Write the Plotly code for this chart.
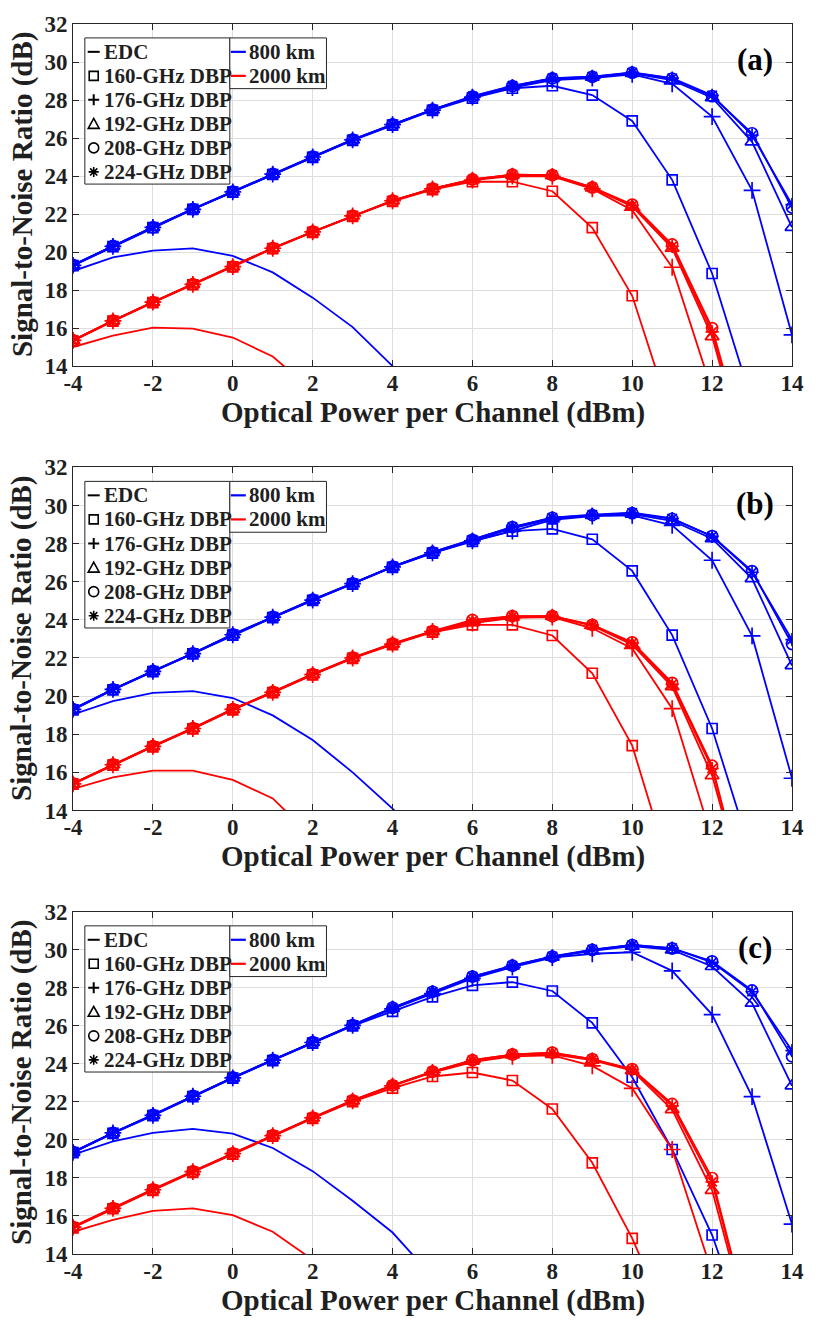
import plotly.graph_objects as go

# ---------------- data ----------------
X = list(range(-4, 15))  # optical power per channel (dBm)
X_TICKS = [-4, -2, 0, 2, 4, 6, 8, 10, 12, 14]
X_TICK_LABELS = ["-4", "-2", "0", "2", "4", "6", "8", "10", "12", "14"]
Y_TICKS = [14, 16, 18, 20, 22, 24, 26, 28, 30, 32]
Y_TICK_LABELS = ["14", "16", "18", "20", "22", "24", "26", "28", "30", "32"]

SERIES = ["EDC", "160-GHz DBP", "176-GHz DBP", "192-GHz DBP", "208-GHz DBP", "224-GHz DBP"]
DISTANCES = ["800 km", "2000 km"]
PANEL_LABELS = ["(a)", "(b)", "(c)"]
X_TITLE = "Optical Power per Channel (dBm)"
Y_TITLE = "Signal-to-Noise Ratio (dB)"

# Panel (a)
A_800_EDC = [19.0, 19.72, 20.07, 20.19, 19.8, 18.93, 17.6, 16.05, 14.0, 11.7]
A_800_160 = [19.28, 20.28, 21.28, 22.24, 23.15, 24.08, 24.98, 25.88, 26.68, 27.45, 28.1, 28.62, 28.75, 28.26, 26.9, 23.8, 18.87, 12.1]
A_800_176 = [19.3, 20.3, 21.3, 22.25, 23.17, 24.1, 25.0, 25.9, 26.7, 27.47, 28.15, 28.65, 29.05, 29.15, 29.35, 28.85, 27.13, 23.25, 15.64]
A_800_192 = [19.3, 20.3, 21.3, 22.25, 23.17, 24.1, 25.0, 25.9, 26.7, 27.48, 28.17, 28.7, 29.12, 29.2, 29.4, 29.05, 28.12, 25.8, 21.3]
A_800_208 = [19.32, 20.32, 21.3, 22.26, 23.18, 24.12, 25.02, 25.92, 26.72, 27.5, 28.18, 28.73, 29.14, 29.22, 29.44, 29.13, 28.2, 26.25, 22.34]
A_800_224 = [19.32, 20.32, 21.32, 22.27, 23.2, 24.12, 25.02, 25.92, 26.72, 27.5, 28.2, 28.75, 29.15, 29.23, 29.45, 29.15, 28.25, 26.15, 22.5]
A_2000_EDC = [15.0, 15.6, 16.02, 15.97, 15.5, 14.5, 12.7]
A_2000_160 = [15.32, 16.36, 17.34, 18.28, 19.22, 20.18, 21.04, 21.88, 22.66, 23.28, 23.7, 23.7, 23.2, 21.28, 17.7, 11.2]
A_2000_176 = [15.35, 16.38, 17.36, 18.3, 19.23, 20.2, 21.06, 21.9, 22.7, 23.32, 23.78, 24.0, 23.98, 23.32, 22.2, 19.2, 12.7]
A_2000_192 = [15.35, 16.38, 17.36, 18.3, 19.23, 20.2, 21.06, 21.9, 22.7, 23.32, 23.8, 24.05, 24.02, 23.37, 22.4, 20.2, 15.55, 8.0]
A_2000_208 = [15.36, 16.39, 17.37, 18.31, 19.24, 20.21, 21.07, 21.91, 22.71, 23.34, 23.82, 24.07, 24.05, 23.4, 22.5, 20.4, 16.0, 8.5]
A_2000_224 = [15.36, 16.39, 17.37, 18.31, 19.24, 20.21, 21.07, 21.91, 22.71, 23.34, 23.82, 24.07, 24.05, 23.4, 22.45, 20.3, 15.8, 8.3]

# Panel (b)
B_800_EDC = [19.04, 19.74, 20.17, 20.26, 19.9, 18.99, 17.7, 16.0, 14.1, 11.9]
B_800_160 = [19.28, 20.33, 21.28, 22.22, 23.2, 24.12, 25.02, 25.88, 26.76, 27.5, 28.12, 28.66, 28.78, 28.23, 26.57, 23.2, 18.3, 11.6]
B_800_176 = [19.3, 20.35, 21.3, 22.23, 23.22, 24.14, 25.04, 25.9, 26.78, 27.52, 28.15, 28.66, 29.25, 29.45, 29.48, 28.96, 27.13, 23.16, 15.69]
B_800_192 = [19.3, 20.35, 21.3, 22.23, 23.22, 24.14, 25.04, 25.9, 26.78, 27.53, 28.17, 28.8, 29.3, 29.48, 29.55, 29.2, 28.26, 26.17, 21.6]
B_800_208 = [19.32, 20.36, 21.32, 22.25, 23.24, 24.16, 25.06, 25.92, 26.8, 27.55, 28.2, 28.87, 29.36, 29.5, 29.6, 29.3, 28.4, 26.56, 22.73]
B_800_224 = [19.32, 20.36, 21.32, 22.25, 23.24, 24.16, 25.06, 25.92, 26.8, 27.55, 28.2, 28.87, 29.36, 29.52, 29.62, 29.32, 28.38, 26.5, 22.96]
B_2000_EDC = [15.13, 15.74, 16.09, 16.09, 15.6, 14.63, 12.6]
B_2000_160 = [15.38, 16.38, 17.34, 18.28, 19.28, 20.18, 21.11, 21.98, 22.7, 23.35, 23.74, 23.74, 23.18, 21.2, 17.4, 10.5]
B_2000_176 = [15.4, 16.4, 17.36, 18.3, 19.3, 20.2, 21.13, 22.0, 22.73, 23.39, 23.83, 24.1, 24.15, 23.56, 22.5, 19.34, 12.5]
B_2000_192 = [15.4, 16.4, 17.36, 18.3, 19.3, 20.2, 21.13, 22.0, 22.73, 23.39, 23.85, 24.15, 24.18, 23.7, 22.7, 20.5, 15.83, 8.3]
B_2000_208 = [15.42, 16.42, 17.38, 18.32, 19.32, 20.22, 21.15, 22.02, 22.75, 23.41, 24.0, 24.2, 24.2, 23.74, 22.82, 20.7, 16.35, 8.2]
B_2000_224 = [15.42, 16.42, 17.38, 18.32, 19.32, 20.22, 21.15, 22.02, 22.75, 23.41, 23.95, 24.18, 24.2, 23.72, 22.78, 20.62, 16.2, 8.2]

# Panel (c)
C_800_EDC = [19.23, 19.93, 20.37, 20.58, 20.33, 19.58, 18.36, 16.8, 15.13, 12.8]
C_800_160 = [19.33, 20.35, 21.28, 22.28, 23.25, 24.18, 25.1, 26.0, 26.77, 27.53, 28.14, 28.31, 27.84, 26.16, 23.3, 19.5, 15.0, 9.0]
C_800_176 = [19.35, 20.37, 21.3, 22.3, 23.27, 24.2, 25.13, 26.03, 26.9, 27.7, 28.5, 29.1, 29.6, 29.8, 29.88, 28.9, 26.6, 22.28, 15.57]
C_800_192 = [19.35, 20.37, 21.3, 22.3, 23.27, 24.2, 25.13, 26.03, 26.93, 27.75, 28.55, 29.15, 29.62, 29.95, 30.2, 30.0, 29.13, 27.2, 22.85]
C_800_208 = [19.37, 20.38, 21.32, 22.32, 23.29, 24.22, 25.15, 26.05, 26.96, 27.8, 28.6, 29.17, 29.65, 30.0, 30.26, 30.08, 29.4, 27.87, 24.4]
C_800_224 = [19.37, 20.38, 21.32, 22.32, 23.29, 24.22, 25.15, 26.05, 26.96, 27.8, 28.6, 29.17, 29.66, 30.02, 30.26, 30.1, 29.35, 27.8, 24.7]
C_2000_EDC = [15.17, 15.8, 16.27, 16.4, 16.05, 15.17, 13.7, 11.5]
C_2000_160 = [15.38, 16.38, 17.35, 18.3, 19.25, 20.2, 21.13, 22.02, 22.73, 23.34, 23.55, 23.13, 21.63, 18.8, 14.82, 10.0]
C_2000_176 = [15.41, 16.4, 17.38, 18.33, 19.28, 20.23, 21.16, 22.06, 22.85, 23.55, 24.1, 24.4, 24.45, 23.9, 22.72, 19.5, 13.0]
C_2000_192 = [15.41, 16.4, 17.38, 18.33, 19.28, 20.23, 21.16, 22.06, 22.87, 23.58, 24.15, 24.48, 24.5, 24.2, 23.65, 21.6, 17.35, 9.5]
C_2000_208 = [15.43, 16.42, 17.4, 18.35, 19.3, 20.25, 21.18, 22.08, 22.88, 23.6, 24.2, 24.5, 24.6, 24.26, 23.73, 21.9, 18.0, 9.8]
C_2000_224 = [15.43, 16.42, 17.4, 18.35, 19.3, 20.25, 21.18, 22.08, 22.88, 23.6, 24.2, 24.5, 24.58, 24.25, 23.7, 21.8, 17.8, 9.7]

PANELS = [
    {"800 km": [A_800_EDC, A_800_160, A_800_176, A_800_192, A_800_208, A_800_224],
     "2000 km": [A_2000_EDC, A_2000_160, A_2000_176, A_2000_192, A_2000_208, A_2000_224]},
    {"800 km": [B_800_EDC, B_800_160, B_800_176, B_800_192, B_800_208, B_800_224],
     "2000 km": [B_2000_EDC, B_2000_160, B_2000_176, B_2000_192, B_2000_208, B_2000_224]},
    {"800 km": [C_800_EDC, C_800_160, C_800_176, C_800_192, C_800_208, C_800_224],
     "2000 km": [C_2000_EDC, C_2000_160, C_2000_176, C_2000_192, C_2000_208, C_2000_224]},
]

# ---------------- styles ----------------
FONT = "Liberation Serif"
TXT = "#1f1f1f"
COLORS = {"800 km": "#0000ff", "2000 km": "#ff0000"}
SYMBOLS = [None, "square-open", "cross-thin-open", "triangle-up-open", "circle-open", "asterisk-open"]
SIZES = [0, 10, 12, 12, 11, 11]

Y_DOMAINS = [[0.7219, 1.0], [0.3606, 0.6395], [0.0, 0.2781]]
PLOT_W, PLOT_H = 729.0, 344.0

fig = go.Figure()

for p, panel in enumerate(PANELS):
    xa = "x" if p == 0 else f"x{p+1}"
    ya = "y" if p == 0 else f"y{p+1}"
    for dist in DISTANCES:
        col = COLORS[dist]
        for s, ys in enumerate(panel[dist]):
            yy = list(ys) + [None] * (len(X) - len(ys))
            if s == 0:
                fig.add_trace(go.Scatter(x=X, y=yy, mode="lines", xaxis=xa, yaxis=ya, name=f"{SERIES[s]} {dist}",
                                         line=dict(color=col, width=1.8), showlegend=False))
            else:
                fig.add_trace(go.Scatter(x=X, y=yy, mode="lines+markers", xaxis=xa, yaxis=ya,
                                         name=f"{SERIES[s]} {dist}",
                                         line=dict(color=col, width=1.8),
                                         marker=dict(symbol=SYMBOLS[s], size=SIZES[s], color=col,
                                                     line=dict(color=col, width=1.7)),
                                         showlegend=False))

axis_common = dict(showline=True, linecolor="#262626", linewidth=1, mirror="ticks",
                   ticks="inside", ticklen=6, tickcolor="#262626", tickwidth=1,
                   showgrid=True, gridcolor="#dedede", gridwidth=1, zeroline=False,
                   tickfont=dict(family=FONT, size=23, color=TXT, weight="bold"))

annotations = []
shapes = []

# legend geometry (in axis-domain fractions / pixel offsets)
BOX1_X = [12 / PLOT_W, 159 / PLOT_W]
BOX2_X = [159 / PLOT_W, 257 / PLOT_W]
BOX_TOP = 1 - 14 / PLOT_H
BOX1_BOT = 1 - 161 / PLOT_H
BOX2_BOT = 1 - 65 / PLOT_H
ROW_Y = [1 - (28 + 24.15 * i) / PLOT_H for i in range(6)]
SYM_X = 21 / PLOT_W
TXT1_X = 30 / PLOT_W
TXT2_X = 177 / PLOT_W

# legend glyphs (pixel paths, relative to row anchor)
GLYPHS = [
    dict(type="line", x0=-6, x1=6, y0=0, y1=0),
    dict(type="rect", x0=-4.5, x1=4.5, y0=-4.5, y1=4.5),
    dict(type="path", path="M-5.5,0 L5.5,0 M0,-5.5 L0,5.5"),
    dict(type="path", path="M-5.5,-4.5 L5.5,-4.5 L0,5.5 Z"),
    dict(type="circle", x0=-5, x1=5, y0=-5, y1=5),
    dict(type="path", path="M-5,0 L5,0 M0,-5 L0,5 M-3.6,-3.6 L3.6,3.6 M-3.6,3.6 L3.6,-3.6"),
]

for p in range(3):
    xa = "x" if p == 0 else f"x{p+1}"
    ya = "y" if p == 0 else f"y{p+1}"
    xd, yd = f"{xa} domain", f"{ya} domain"
    shapes.append(dict(type="rect", xref=xd, yref=yd, x0=BOX1_X[0], x1=BOX1_X[1], y0=BOX1_BOT, y1=BOX_TOP,
                       line=dict(color="#262626", width=1), fillcolor="white", layer="above"))
    shapes.append(dict(type="rect", xref=xd, yref=yd, x0=BOX2_X[0], x1=BOX2_X[1], y0=BOX2_BOT, y1=BOX_TOP,
                       line=dict(color="#262626", width=1), fillcolor="white", layer="above"))
    for i, name in enumerate(SERIES):
        g = dict(GLYPHS[i])
        g.update(xref=xd, yref=yd, xsizemode="pixel", ysizemode="pixel", xanchor=SYM_X, yanchor=ROW_Y[i],
                 line=dict(color="black", width=2 if i in (0, 2) else 1.6), layer="above")
        shapes.append(g)
        annotations.append(dict(text=name, xref=xd, yref=yd, x=TXT1_X, y=ROW_Y[i], xanchor="left",
                                yanchor="middle", showarrow=False, borderpad=0,
                                font=dict(family=FONT, size=21, color=TXT, weight="bold")))
    for i, dist in enumerate(DISTANCES):
        shapes.append(dict(type="line", xref=xd, yref=yd, xsizemode="pixel", ysizemode="pixel",
                           xanchor=BOX2_X[0], yanchor=ROW_Y[i], x0=1, x1=16, y0=0, y1=0,
                           line=dict(color=COLORS[dist], width=2.2), layer="above"))
        annotations.append(dict(text=dist, xref=xd, yref=yd, x=TXT2_X, y=ROW_Y[i], xanchor="left",
                                yanchor="middle", showarrow=False, borderpad=0,
                                font=dict(family=FONT, size=21, color=TXT, weight="bold")))
    # panel tag
    annotations.append(dict(text=PANEL_LABELS[p], xref=xd, yref=yd, x=0.948, y=0.895, showarrow=False,
                            xanchor="center", yanchor="middle",
                            font=dict(family=FONT, size=31, color="black", weight="bold")))
    # axis titles
    annotations.append(dict(text=X_TITLE, xref=xd, yref=yd, x=0.5, y=0, yshift=-46, showarrow=False,
                            xanchor="center", yanchor="middle", borderpad=0,
                            font=dict(family=FONT, size=29, color=TXT, weight="bold")))
    annotations.append(dict(text=Y_TITLE, xref=xd, yref=yd, x=0, y=0.5, xshift=-51, showarrow=False,
                            textangle=-90, xanchor="center", yanchor="middle", borderpad=0,
                            font=dict(family=FONT, size=29, color=TXT, weight="bold")))

layout = dict(
    width=816, height=1322,
    margin=dict(l=73, r=14, t=17, b=68),
    paper_bgcolor="white", plot_bgcolor="white",
    font=dict(family=FONT, color=TXT),
    showlegend=False,
    annotations=annotations,
    shapes=shapes,
)

for p in range(3):
    xk = "xaxis" if p == 0 else f"xaxis{p+1}"
    yk = "yaxis" if p == 0 else f"yaxis{p+1}"
    ya = "y" if p == 0 else f"y{p+1}"
    xa = "x" if p == 0 else f"x{p+1}"
    layout[xk] = dict(axis_common, domain=[0, 1], anchor=ya, range=[-4, 14], ticklabelstandoff=-4,
                      tickmode="array", tickvals=X_TICKS, ticktext=X_TICK_LABELS)
    layout[yk] = dict(axis_common, domain=Y_DOMAINS[p], anchor=xa, range=[14, 32],
                      tickmode="array", tickvals=Y_TICKS, ticktext=Y_TICK_LABELS)

fig.update_layout(**layout)
fig.write_html("out.html")
